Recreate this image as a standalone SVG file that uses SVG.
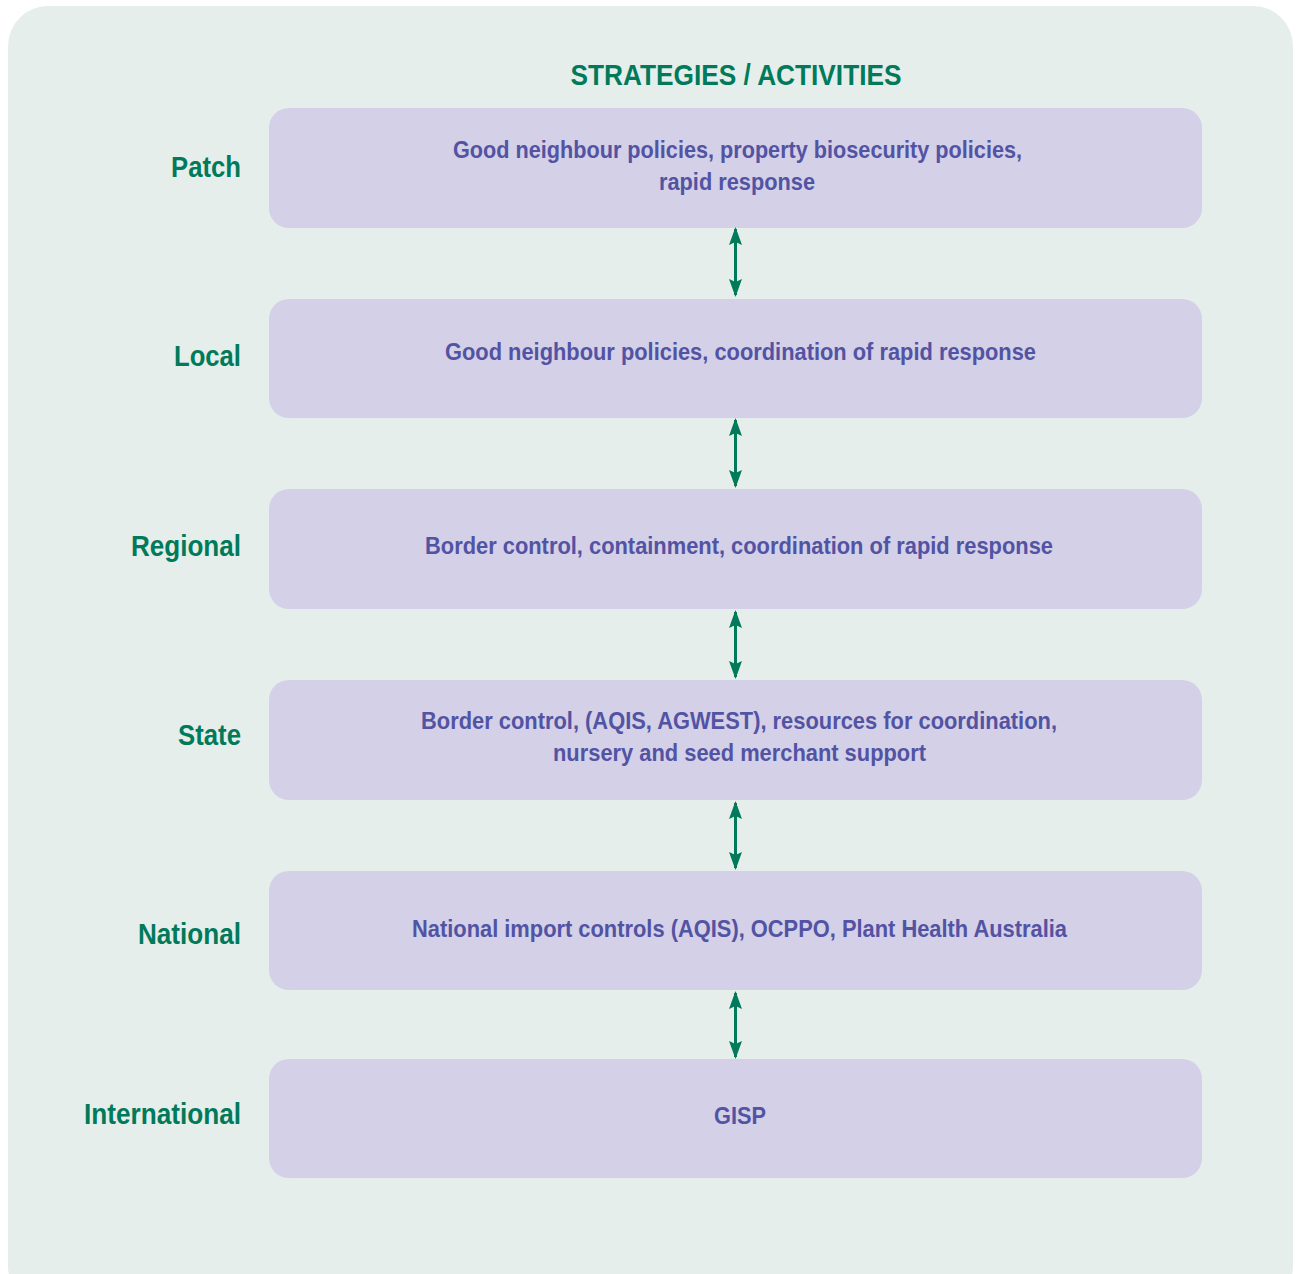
<svg xmlns="http://www.w3.org/2000/svg" width="1296" height="1274" viewBox="0 0 1296 1274">
<defs>
<style>
.lbl{font-family:"Liberation Sans Narrow","Liberation Sans",Arial,sans-serif;font-weight:bold;font-size:30px;fill:#007a5a;text-anchor:end}
.title{font-family:"Liberation Sans Narrow","Liberation Sans",Arial,sans-serif;font-weight:bold;font-size:30px;fill:#007a5a;text-anchor:middle}
.box{fill:#d3d0e8}
.txt{font-family:"Liberation Sans Narrow","Liberation Sans",Arial,sans-serif;font-weight:bold;font-size:24.5px;fill:#5253a3;text-anchor:middle}
.conn{stroke:#007a5a;stroke-width:3;fill:none;marker-start:url(#ah);marker-end:url(#ah)}
</style>
<marker id="ah" viewBox="0 0 18 13" refX="16" refY="6.5" markerWidth="18" markerHeight="13" orient="auto-start-reverse" markerUnits="userSpaceOnUse">
<path d="M0,0 L18,6.5 L0,13 L3,6.5 z" fill="#007a5a"/>
</marker>
</defs>
<rect x="8" y="6" width="1285" height="1300" rx="40" fill="#e5eeeb"/>
<text class="title" x="736" y="85" textLength="331" lengthAdjust="spacingAndGlyphs">STRATEGIES / ACTIVITIES</text>
<g id="patch">
<rect class="box" x="269" y="108" width="933" height="120" rx="20"/>
<text class="lbl" x="241" y="177" textLength="70" lengthAdjust="spacingAndGlyphs">Patch</text>
<text class="txt" x="737.5" y="158" textLength="569" lengthAdjust="spacingAndGlyphs">Good neighbour policies, property biosecurity policies,</text>
<text class="txt" x="737" y="190" textLength="156" lengthAdjust="spacingAndGlyphs">rapid response</text>
</g>
<g id="local">
<rect class="box" x="269" y="299" width="933" height="119" rx="20"/>
<text class="lbl" x="241" y="366" textLength="67" lengthAdjust="spacingAndGlyphs">Local</text>
<text class="txt" x="740.5" y="360" textLength="591" lengthAdjust="spacingAndGlyphs">Good neighbour policies, coordination of rapid response</text>
</g>
<g id="regional">
<rect class="box" x="269" y="489" width="933" height="120" rx="20"/>
<text class="lbl" x="241" y="556" textLength="110" lengthAdjust="spacingAndGlyphs">Regional</text>
<text class="txt" x="739" y="554" textLength="628" lengthAdjust="spacingAndGlyphs">Border control, containment, coordination of rapid response</text>
</g>
<g id="state">
<rect class="box" x="269" y="680" width="933" height="120" rx="20"/>
<text class="lbl" x="241" y="745" textLength="63" lengthAdjust="spacingAndGlyphs">State</text>
<text class="txt" x="739" y="729" textLength="636" lengthAdjust="spacingAndGlyphs">Border control, (AQIS, AGWEST), resources for coordination,</text>
<text class="txt" x="739.5" y="761" textLength="373" lengthAdjust="spacingAndGlyphs">nursery and seed merchant support</text>
</g>
<g id="national">
<rect class="box" x="269" y="871" width="933" height="119" rx="20"/>
<text class="lbl" x="241" y="944" textLength="103" lengthAdjust="spacingAndGlyphs">National</text>
<text class="txt" x="739.5" y="937" textLength="655" lengthAdjust="spacingAndGlyphs">National import controls (AQIS), OCPPO, Plant Health Australia</text>
</g>
<g id="international">
<rect class="box" x="269" y="1059" width="933" height="119" rx="20"/>
<text class="lbl" x="241" y="1124" textLength="157" lengthAdjust="spacingAndGlyphs">International</text>
<text class="txt" x="740" y="1124" textLength="52" lengthAdjust="spacingAndGlyphs">GISP</text>
</g>
<g id="connectors">
<line class="conn" x1="735.5" y1="229" x2="735.5" y2="295"/>
<line class="conn" x1="735.5" y1="420" x2="735.5" y2="486"/>
<line class="conn" x1="735.5" y1="612" x2="735.5" y2="677"/>
<line class="conn" x1="735.5" y1="803" x2="735.5" y2="868"/>
<line class="conn" x1="735.5" y1="993" x2="735.5" y2="1057"/>
</g>
</svg>
